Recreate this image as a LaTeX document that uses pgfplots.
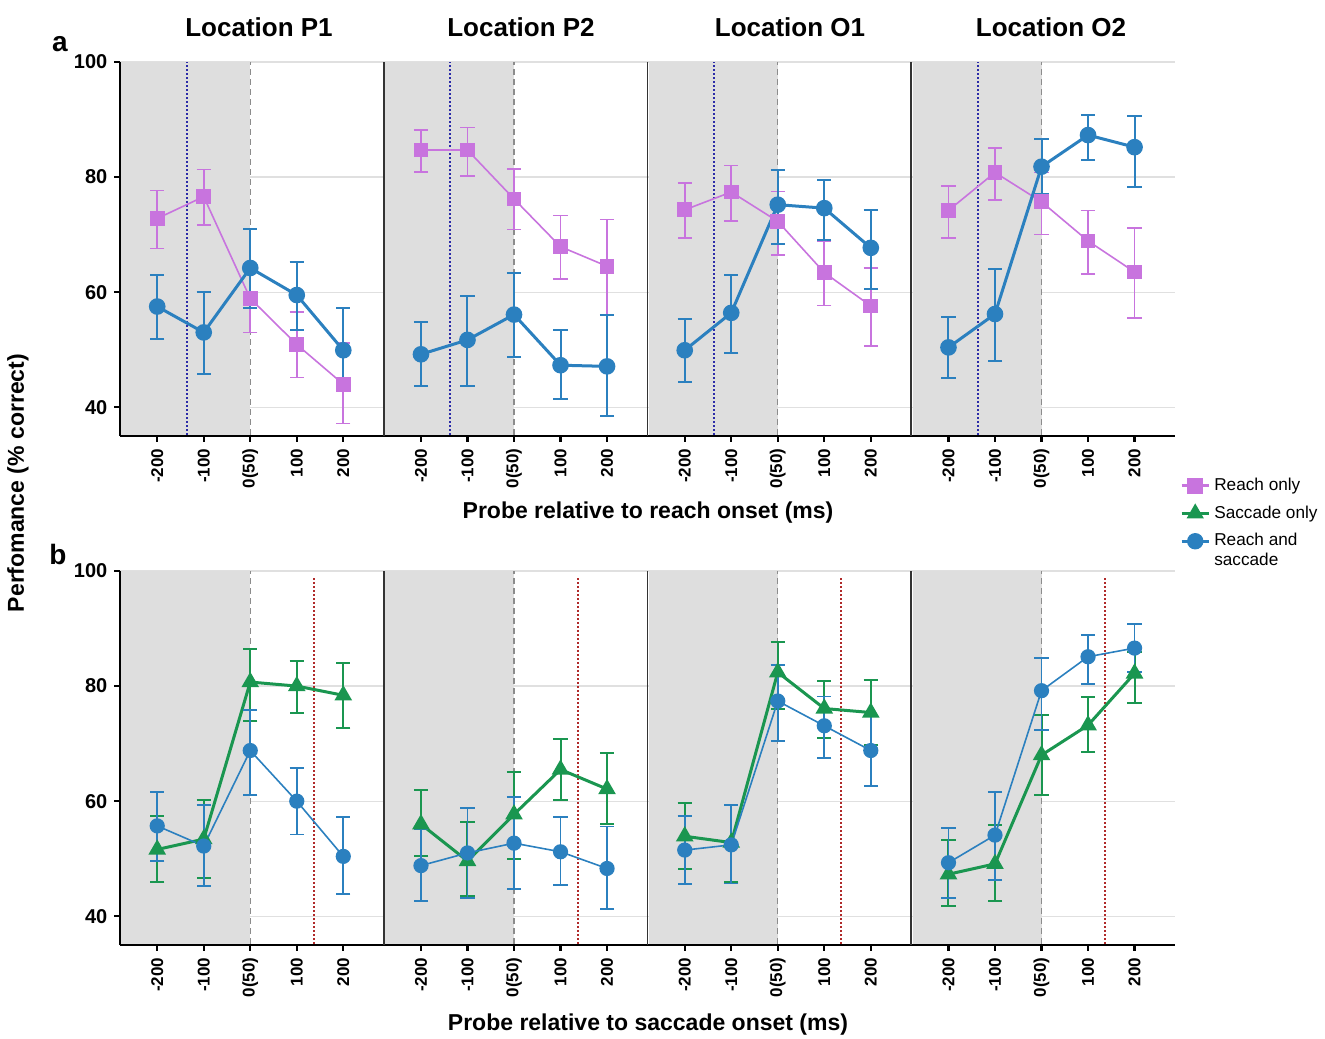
\documentclass[border=0pt]{standalone}
\usepackage{fontspec}
\setmainfont{Liberation Sans}
\usepackage{pgfplots}
\pgfplotsset{compat=1.18}

\definecolor{reachc}{HTML}{C874DE}
\definecolor{sacc}{HTML}{1A9650}
\definecolor{rsc}{HTML}{2B80BF}
\definecolor{shadec}{HTML}{DEDEDE}
\definecolor{bluedot}{HTML}{2B2BA8}
\definecolor{reddot}{HTML}{B02A2A}

\pgfplotsset{
  panel/.style={
    scale only axis, width=131.875pt, height=187pt,
    xmin=-0.8, xmax=4.87, ymin=35, ymax=100,
    xtick={0,1,2,3,4}, xticklabels={-200,-100,0(50),100,200},
    ytick={40,60,80,100},
    axis x line=bottom, axis y line=left,
    x axis line style={-, line width=1.3pt, black},
    tick align=outside, major tick length=2.8pt,
    xtick style={line width=1.1pt, black},
    ymajorgrids, grid style={black!12, line width=0.6pt},
    xticklabel style={rotate=90, anchor=east, font=\bfseries\fontsize{8.5}{9}\selectfont},
    /pgf/number format/assume math mode=true,
  },
  first/.style={
    y axis line style={-, line width=1.3pt, black},
    ytick style={line width=1.1pt, black},
    yticklabel style={font=\bfseries\fontsize{10}{11}\selectfont},
  },
  other/.style={
    y axis line style={-, line width=0.8pt, black!80},
    ytick style={draw=none}, yticklabels={},
  },
  ebar/.style={error bars/.cd, y dir=both, y explicit,
    error bar style={line width=#1},
    error mark options={rotate=90, line width=#1, mark size=3.6pt}},
  reachplot/.style={color=reachc, line width=0.8pt, mark=square*, mark size=3.3pt, ebar=0.8pt},
  sacplot/.style={color=sacc, line width=1.5pt, mark=triangle*, mark size=3.6pt, ebar=1pt},
  rsthick/.style={color=rsc, line width=1.5pt, mark=*, mark size=3.4pt, ebar=1pt},
  rsthin/.style={color=rsc, line width=0.8pt, mark=*, mark size=3.4pt, ebar=0.9pt},
}
\newcommand{\shadebg}{%
  \fill[shadec] (axis cs:-0.77,35.25) rectangle (axis cs:2,100);
  \draw[black!45, line width=0.6pt, densely dashed] (axis cs:2,35.25) -- (axis cs:2,100);}
\newcommand{\reachonset}{\draw[bluedot, line width=1pt, densely dotted] (axis cs:0.63,35.25) -- (axis cs:0.63,100);}
\newcommand{\sacoffset}{\draw[reddot, line width=1pt, densely dotted] (axis cs:3.37,35.25) -- (axis cs:3.37,99);}

\begin{document}
\begin{tikzpicture}
\useasboundingbox (0,0) rectangle (662.5pt,519pt);

% ---------- row a: probe relative to reach onset ----------
\begin{axis}[panel, first, at={(60pt,301pt)}, anchor=south west]
\shadebg \reachonset
\addplot[reachplot] table[x=x, y=y, y error plus expr=\thisrow{hi}-\thisrow{y}, y error minus expr=\thisrow{y}-\thisrow{lo}] {
x y hi lo
0 72.8 77.7 67.6
1 76.6 81.3 71.7
2 58.9 65.0 53.0
3 50.9 56.6 45.2
4 44.0 51.2 37.2
};
\addplot[rsthick] table[x=x, y=y, y error plus expr=\thisrow{hi}-\thisrow{y}, y error minus expr=\thisrow{y}-\thisrow{lo}] {
x y hi lo
0 57.5 63.0 51.8
1 53.0 60.0 45.8
2 64.2 71.0 57.2
3 59.5 65.3 53.5
4 49.9 57.2 42.8
};
\end{axis}

\begin{axis}[panel, other, at={(191.875pt,301pt)}, anchor=south west]
\shadebg \reachonset
\addplot[reachplot] table[x=x, y=y, y error plus expr=\thisrow{hi}-\thisrow{y}, y error minus expr=\thisrow{y}-\thisrow{lo}] {
x y hi lo
0 84.7 88.2 80.9
1 84.7 88.6 80.2
2 76.2 81.4 70.9
3 67.9 73.3 62.3
4 64.5 72.6 56.1
};
\addplot[rsthick] table[x=x, y=y, y error plus expr=\thisrow{hi}-\thisrow{y}, y error minus expr=\thisrow{y}-\thisrow{lo}] {
x y hi lo
0 49.2 54.8 43.7
1 51.7 59.4 43.7
2 56.1 63.4 48.8
3 47.3 53.4 41.4
4 47.1 56.1 38.4
};
\end{axis}

\begin{axis}[panel, other, at={(323.75pt,301pt)}, anchor=south west]
\shadebg \reachonset
\addplot[reachplot] table[x=x, y=y, y error plus expr=\thisrow{hi}-\thisrow{y}, y error minus expr=\thisrow{y}-\thisrow{lo}] {
x y hi lo
0 74.3 79.0 69.4
1 77.4 82.0 72.4
2 72.3 77.5 66.5
3 63.4 68.8 57.7
4 57.6 64.2 50.6
};
\addplot[rsthick] table[x=x, y=y, y error plus expr=\thisrow{hi}-\thisrow{y}, y error minus expr=\thisrow{y}-\thisrow{lo}] {
x y hi lo
0 49.9 55.4 44.4
1 56.4 63.0 49.5
2 75.2 81.3 68.3
3 74.6 79.5 69.1
4 67.7 74.2 60.5
};
\end{axis}

\begin{axis}[panel, other, at={(455.625pt,301pt)}, anchor=south west,
  legend style={at={(1.018,-0.1)}, anchor=north west, draw=none, fill=none,
    font=\fontsize{8.6}{10}\selectfont, row sep=2.2pt, inner sep=0pt},
  legend cell align=left,
  legend image post style={line width=1.4pt},
  legend image code/.code={%
    \draw[mark repeat=2, mark phase=2] plot coordinates {(0cm,0cm) (0.24cm,0cm) (0.48cm,0cm)};}]
\shadebg \reachonset
\addplot[reachplot] table[x=x, y=y, y error plus expr=\thisrow{hi}-\thisrow{y}, y error minus expr=\thisrow{y}-\thisrow{lo}] {
x y hi lo
0 74.2 78.5 69.4
1 80.8 85.1 76.0
2 75.7 80.8 70.0
3 68.9 74.2 63.2
4 63.5 71.2 55.5
};
\addlegendentry{Reach only}
\addlegendimage{sacc, line width=1.5pt, mark=triangle*, mark size=3.6pt}
\addlegendentry{Saccade only}
\addplot[rsthick] table[x=x, y=y, y error plus expr=\thisrow{hi}-\thisrow{y}, y error minus expr=\thisrow{y}-\thisrow{lo}] {
x y hi lo
0 50.4 55.7 45.0
1 56.2 64.1 48.0
2 81.8 86.6 77.0
3 87.3 90.8 82.9
4 85.2 90.7 78.2
};
\addlegendentry{\rlap{\smash{\raisebox{-10pt}{saccade}}}Reach and}
\end{axis}

% ---------- row b: probe relative to saccade onset ----------
\begin{axis}[panel, first, at={(60pt,46.5pt)}, anchor=south west]
\shadebg \sacoffset
\addplot[sacplot] table[x=x, y=y, y error plus expr=\thisrow{hi}-\thisrow{y}, y error minus expr=\thisrow{y}-\thisrow{lo}] {
x y hi lo
0 51.6 57.5 46.0
1 53.4 60.2 46.7
2 80.7 86.5 73.9
3 80.0 84.3 75.3
4 78.4 84.0 72.8
};
\addplot[rsthin] table[x=x, y=y, y error plus expr=\thisrow{hi}-\thisrow{y}, y error minus expr=\thisrow{y}-\thisrow{lo}] {
x y hi lo
0 55.7 61.6 49.6
1 52.2 59.4 45.3
2 68.8 75.8 61.1
3 60.0 65.7 54.2
4 50.4 57.2 43.9
};
\end{axis}

\begin{axis}[panel, other, at={(191.875pt,46.5pt)}, anchor=south west]
\shadebg \sacoffset
\addplot[sacplot] table[x=x, y=y, y error plus expr=\thisrow{hi}-\thisrow{y}, y error minus expr=\thisrow{y}-\thisrow{lo}] {
x y hi lo
0 56.0 61.9 50.5
1 49.6 56.4 43.5
2 57.7 65.1 49.9
3 65.5 70.8 60.2
4 62.1 68.3 56.0
};
\addplot[rsthin] table[x=x, y=y, y error plus expr=\thisrow{hi}-\thisrow{y}, y error minus expr=\thisrow{y}-\thisrow{lo}] {
x y hi lo
0 48.8 55.2 42.7
1 51.0 58.8 43.2
2 52.7 60.7 44.7
3 51.2 57.3 45.4
4 48.3 55.6 41.3
};
\end{axis}

\begin{axis}[panel, other, at={(323.75pt,46.5pt)}, anchor=south west]
\shadebg \sacoffset
\addplot[sacplot] table[x=x, y=y, y error plus expr=\thisrow{hi}-\thisrow{y}, y error minus expr=\thisrow{y}-\thisrow{lo}] {
x y hi lo
0 53.9 59.6 48.2
1 52.8 59.3 46.0
2 82.4 87.6 76.1
3 76.1 80.8 70.9
4 75.4 81.0 69.7
};
\addplot[rsthin] table[x=x, y=y, y error plus expr=\thisrow{hi}-\thisrow{y}, y error minus expr=\thisrow{y}-\thisrow{lo}] {
x y hi lo
0 51.5 57.4 45.6
1 52.4 59.3 45.7
2 77.4 83.6 70.4
3 73.1 78.2 67.5
4 68.8 74.7 62.6
};
\end{axis}

\begin{axis}[panel, other, at={(455.625pt,46.5pt)}, anchor=south west]
\shadebg \sacoffset
\addplot[sacplot] table[x=x, y=y, y error plus expr=\thisrow{hi}-\thisrow{y}, y error minus expr=\thisrow{y}-\thisrow{lo}] {
x y hi lo
0 47.3 53.3 41.7
1 49.1 55.8 42.7
2 68.0 74.9 61.1
3 73.2 78.1 68.5
4 82.2 86.0 77.1
};
\addplot[rsthin] table[x=x, y=y, y error plus expr=\thisrow{hi}-\thisrow{y}, y error minus expr=\thisrow{y}-\thisrow{lo}] {
x y hi lo
0 49.3 55.3 43.1
1 54.1 61.6 46.3
2 79.2 84.9 72.4
3 85.1 88.9 80.4
4 86.6 90.8 82.5
};
\end{axis}

% ---------- titles and labels ----------
\begin{scope}[every node/.style={font=\bfseries\fontsize{13}{15}\selectfont}]
\node at (129.5pt,505.5pt) {Location P1};
\node at (260.5pt,505.5pt) {Location P2};
\node at (395pt,505.5pt) {Location O1};
\node at (525.5pt,505.5pt) {Location O2};
\end{scope}
\node[font=\bfseries\fontsize{14}{16}\selectfont] at (30pt,497pt) {a};
\node[font=\bfseries\fontsize{14}{16}\selectfont] at (29pt,242pt) {b};
\node[font=\bfseries\fontsize{11.5}{13}\selectfont, rotate=90] at (9pt,277.5pt) {Perfomance (\% correct)};
\node[font=\bfseries\fontsize{11.5}{13}\selectfont] at (324pt,262.5pt) {Probe relative to reach onset (ms)};
\node[font=\bfseries\fontsize{11.5}{13}\selectfont] at (324pt,6.5pt) {Probe relative to saccade onset (ms)};
\end{tikzpicture}
\end{document}
